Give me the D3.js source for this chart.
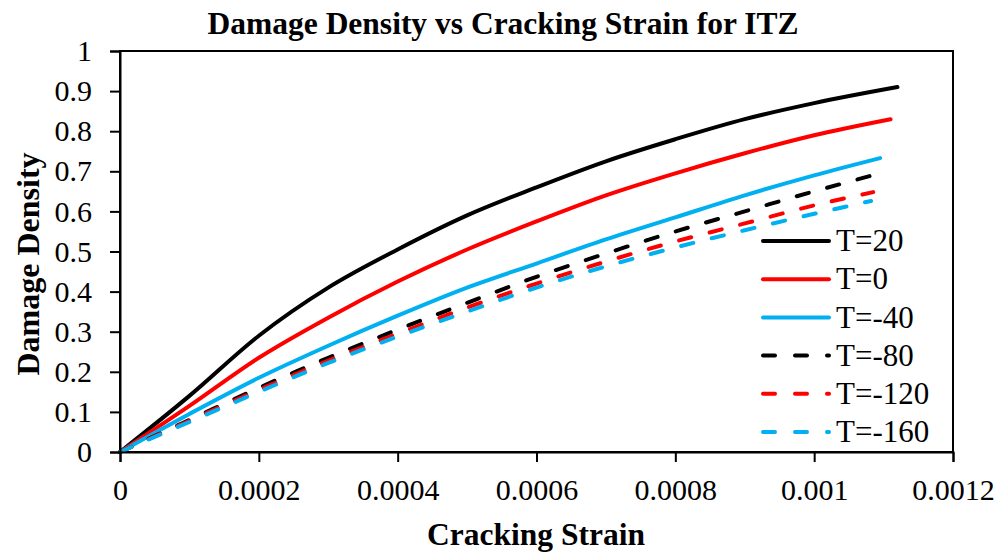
<!DOCTYPE html>
<html>
<head>
<meta charset="utf-8">
<script src="https://cdn.jsdelivr.net/npm/d3@7"></script>
<style>
  body { margin: 0; background: #fff; }
  text { font-family: "Liberation Serif", "Times New Roman", serif; fill: #000; }
</style>
</head>
<body>
<svg id="chart" width="1005" height="554"></svg>
<script>
// values
const strain = [0, 0.0001, 0.0002, 0.0003, 0.0004, 0.0005, 0.0006, 0.0007, 0.0008, 0.0009, 0.001];

const t20   = [0, 0.14, 0.29, 0.41, 0.505, 0.59, 0.66, 0.725, 0.78, 0.83, 0.87];
const t0    = [0, 0.115, 0.235, 0.335, 0.425, 0.505, 0.575, 0.64, 0.695, 0.745, 0.79];
const tm40  = [0, 0.095, 0.185, 0.265, 0.34, 0.41, 0.47, 0.53, 0.585, 0.64, 0.69];
const tm80  = [0, 0.08, 0.16, 0.235, 0.305, 0.372, 0.437, 0.495, 0.55, 0.6, 0.65];
const tm120 = [0, 0.078, 0.155, 0.228, 0.295, 0.36, 0.42, 0.475, 0.525, 0.57, 0.615];
const tm160 = [0, 0.075, 0.15, 0.222, 0.288, 0.35, 0.41, 0.463, 0.51, 0.553, 0.594];

// last point of each curve
const endStrain = [0.00112, 0.00111, 0.001095, 0.00108, 0.001085, 0.001082];
const endValue  = [0.91, 0.83, 0.733, 0.688, 0.648, 0.626];

const labels = ["T=20", "T=0", "T=-40", "T=-80", "T=-120", "T=-160"];
const colors = ["#000000", "#ff0000", "#00b0f0", "#000000", "#ff0000", "#00b0f0"];
const dashed = [false, false, false, true, true, true];

const xTicks = [0, 0.0002, 0.0004, 0.0006, 0.0008, 0.001, 0.0012];
const yTicks = [0, 0.1, 0.2, 0.3, 0.4, 0.5, 0.6, 0.7, 0.8, 0.9, 1];

const svg = d3.select("#chart");
const plotLeft = 120, plotRight = 953, plotTop = 51, plotBottom = 452;

const x = d3.scaleLinear().domain([0, 0.0012]).range([plotLeft, plotRight]);
const y = d3.scaleLinear().domain([0, 1]).range([plotBottom, plotTop]);

const series = [t20, t0, tm40, tm80, tm120, tm160].map((vals, i) => {
    const pts = strain.map((s, j) => [s, vals[j]]);
    pts.push([endStrain[i], endValue[i]]);
    return pts;
});

// plot frame
svg.append("rect")
    .attr("x", plotLeft).attr("y", plotTop)
    .attr("width", plotRight - plotLeft).attr("height", plotBottom - plotTop)
    .attr("fill", "none").attr("stroke", "#000").attr("stroke-width", 2);

const line = d3.line()
    .x(d => x(d[0]))
    .y(d => y(d[1]))
    .curve(d3.curveMonotoneX);

svg.append("g").selectAll("path")
    .data(series)
    .join("path")
    .attr("d", line)
    .attr("fill", "none")
    .attr("stroke", (d, i) => colors[i])
    .attr("stroke-width", 4)
    .attr("stroke-linecap", "round")
    .attr("stroke-dasharray", (d, i) => dashed[i] ? "12.5,19" : null);

// axes
const xAxis = svg.append("g")
    .attr("transform", `translate(0,${plotBottom})`)
    .call(d3.axisBottom(x).tickValues(xTicks).tickSize(10).tickPadding(17)
        .tickFormat(d => d === 0 ? "0" : String(+d.toFixed(4))));

const yAxis = svg.append("g")
    .attr("transform", `translate(${plotLeft},0)`)
    .call(d3.axisLeft(y).tickValues(yTicks).tickSize(10).tickPadding(18)
        .tickFormat(d => String(+d.toFixed(1))));

[xAxis, yAxis].forEach(g => {
    g.select(".domain").attr("stroke-width", 2);
    g.selectAll(".tick line").attr("stroke-width", 2);
    g.selectAll("text").style("font-size", "30px").attr("fill", "#000");
});
xAxis.selectAll("text").attr("dy", "0.71em");

// titles
svg.append("text")
    .attr("x", 503).attr("y", 34)
    .attr("text-anchor", "middle")
    .style("font-size", "31.5px").style("font-weight", "bold")
    .text("Damage Density vs Cracking Strain for ITZ");

svg.append("text")
    .attr("x", 536).attr("y", 545)
    .attr("text-anchor", "middle")
    .style("font-size", "31.5px").style("font-weight", "bold")
    .text("Cracking Strain");

svg.append("text")
    .attr("transform", "translate(39,264) rotate(-90)")
    .attr("text-anchor", "middle")
    .style("font-size", "32px").style("font-weight", "bold")
    .text("Damage Density");

// legend
const legend = svg.append("g");
const rows = legend.selectAll("g")
    .data(labels)
    .join("g")
    .attr("transform", (d, i) => `translate(763,${241 + i * 38.2})`);

rows.append("line")
    .attr("x1", 0).attr("x2", 66)
    .attr("stroke", (d, i) => colors[i])
    .attr("stroke-width", 4)
    .attr("stroke-linecap", "round")
    .attr("stroke-dasharray", (d, i) => dashed[i] ? "12,20" : null);

rows.append("text")
    .attr("x", 73).attr("dy", "0.33em")
    .style("font-size", "31px")
    .text(d => d);
</script>
</body>
</html>
